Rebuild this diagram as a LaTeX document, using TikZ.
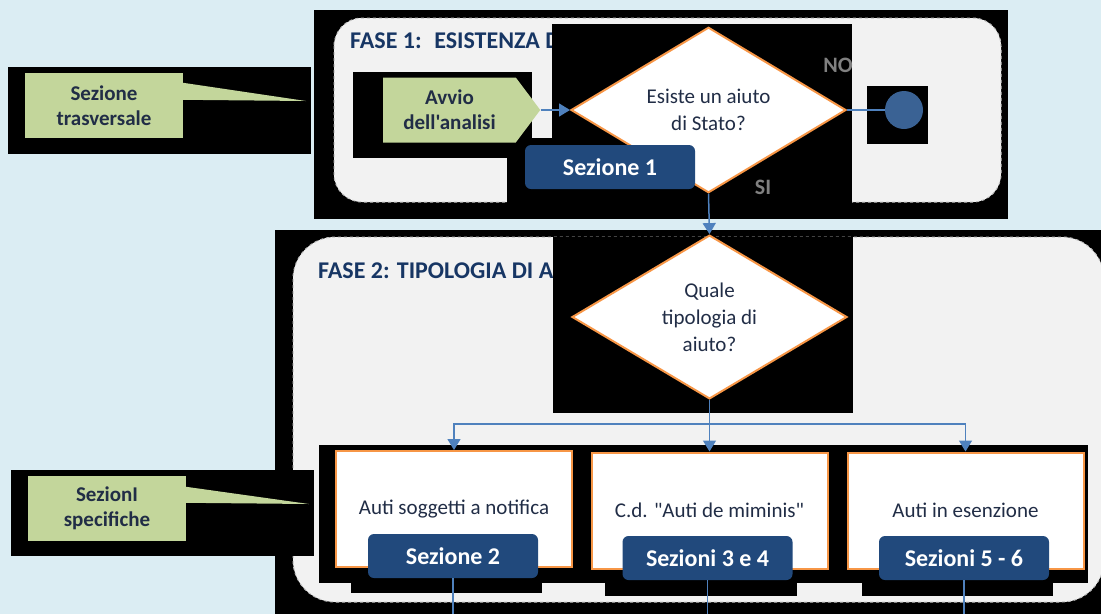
\documentclass[tikz,border=0pt]{standalone}
\usepackage{fontspec}
\setmainfont{Carlito}[Ligatures=TeXOff]
\usepackage{tikz}
\usetikzlibrary{shapes.geometric, shapes.symbols, arrows.meta}
\definecolor{bgblue}{RGB}{219,237,243}
\definecolor{panelgray}{RGB}{242,242,242}
\definecolor{taggreen}{RGB}{195,214,155}
\definecolor{btnblue}{RGB}{33,73,124}
\definecolor{fasecol}{RGB}{23,54,100}
\definecolor{inkdark}{RGB}{33,45,70}
\definecolor{askorange}{RGB}{247,150,70}
\definecolor{flowblue}{RGB}{79,129,189}
\definecolor{dotblue}{RGB}{58,98,148}

\begin{document}
\begin{tikzpicture}[x=1pt, y=-1pt,
  panelbox/.style={fill=panelgray, draw=gray!50, dashed, line width=1pt},
  blackout/.style={fill=black},
  phase/.style={anchor=west, inner sep=0pt, text=fasecol, font=\fontsize{24}{28}\selectfont\bfseries},
  tag/.style={fill=taggreen, text=inkdark, align=center, inner sep=0pt,
    minimum width=158pt, minimum height=65pt, font=\fontsize{21}{25}\selectfont\bfseries},
  start/.style={signal, signal to=east, signal pointer angle=106, fill=taggreen, text=inkdark,
    align=center, inner sep=0pt, minimum width=157pt, minimum height=65pt,
    font=\fontsize{21}{25}\selectfont\bfseries},
  ask/.style={diamond, draw=askorange, line width=2pt, fill=white, text=inkdark, align=center,
    inner sep=0pt, minimum width=275pt, minimum height=158pt, font=\fontsize{21}{27}\selectfont},
  kind/.style={draw=askorange, line width=2pt, fill=white, text=inkdark, inner sep=0pt,
    minimum width=236pt, minimum height=116pt, font=\fontsize{21}{25}\selectfont},
  btn/.style={fill=btnblue, rounded corners=6pt, text=white, inner sep=0pt,
    minimum width=170pt, minimum height=44pt, font=\fontsize{24}{28}\selectfont\bfseries},
  answer/.style={text=gray, inner sep=0pt, font=\fontsize{22}{26}\selectfont\bfseries},
  dot/.style={circle, fill=dotblue, minimum size=38pt, inner sep=0pt},
  link/.style={draw=flowblue, line width=1.5pt},
  arrow/.style={link, -{Triangle[length=11pt, width=13pt]}}
]
\fill[bgblue] (0,0) rectangle (1101,614);
\useasboundingbox (0,0) rectangle (1101,614);

\fill[blackout] (314,10) rectangle (1008,219);
\fill[blackout] (275,230) rectangle (1101,614);
\draw[panelbox, rounded corners=28pt] (334,18) rectangle (1001,202);
\draw[panelbox, rounded corners=42pt] (293,237) rectangle (1104,602);

\node[phase] (fase1) at (350,40.5) {FASE 1:~ ESISTENZA D};
\node[phase] (fase2) at (318,271) {FASE 2: TIPOLOGIA DI A};

\foreach \xa/\ya/\xb/\yb in {8/67/311/154, 353/72/532/158, 552/24/852/219, 507/138/700/219,
  867/86/928/144, 11/470/314/556, 553/237/853/413, 319/445/1088/583,
  351/528/542/593, 605/529/797/596, 862/529/1053/596}
  \fill[blackout] (\xa,\ya) rectangle (\xb,\yb);

\node[tag] (trasv) at (104,105.5) {Sezione\\trasversale};
\coordinate (trasvtip) at (306,101);
\fill[taggreen] ([yshift=-10pt]trasv.north east) -- (trasvtip) -- ([yshift=-27pt]trasv.north east) -- cycle;

\node[tag] (spec) at (107,508.5) {SezionI\\specifiche};
\coordinate (spectip) at (309,504);
\fill[taggreen] ([yshift=-11pt]spec.north east) -- (spectip) -- ([yshift=-27pt]spec.north east) -- cycle;

\node[start] (avvio) at (449.5,110) {Avvio\\dell'analisi};
\node[ask] (q1) at (708.5,110) {Esiste un aiuto\\di Stato?};
\node[dot] (stop) at (904,110) {};
\node[btn] (sez1) at (610,167) {Sezione 1};
\node[answer] (no) at (838,65) {NO};
\node[answer] (si) at (763,187) {SI};

\node[ask] (q2) at (709.5,317) {Quale\\tipologia di\\aiuto?};
\node[kind] (notif) at (454,509) {Auti soggetti a notifica};
\node[kind] (demin) at (709.5,510.5) {C.d. "Auti de miminis"};
\node[kind] (esenz) at (965.5,510.5) {Auti in esenzione};
\node[btn] (sez2) at (453,556) {Sezione 2};
\node[btn] (sez34) at (707.5,558) {Sezioni 3 e 4};
\node[btn] (sez56) at (964,558) {Sezioni 5 - 6};

\draw[arrow] (avvio.east) -- (q1.west);
\draw[link] (q1.east) -- (stop);
\draw[arrow] (q1.south) -- (q2.north);

\coordinate (split) at (709.5,424);
\coordinate (bottom) at (0,614);
\draw[link] (q2.south) -- (split);
\draw[arrow] (split) -| (notif.north);
\draw[arrow] (split) -- (demin.north);
\draw[arrow] (split) -| (esenz.north);

\draw[link] (sez2.south) -- (sez2.south |- bottom);
\draw[link] (sez34.south) -- (sez34.south |- bottom);
\draw[link] (sez56.south) -- (sez56.south |- bottom);
\end{tikzpicture}
\end{document}
